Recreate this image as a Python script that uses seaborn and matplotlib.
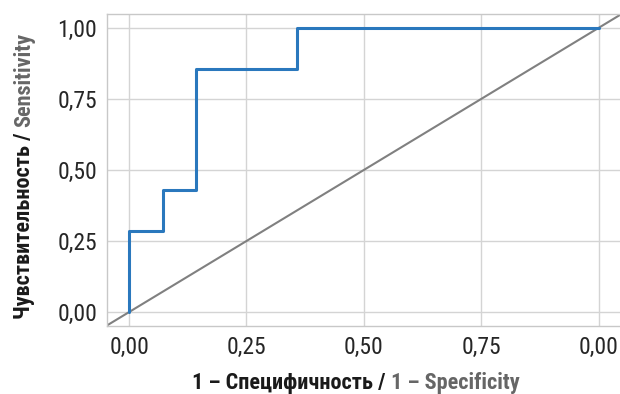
import matplotlib
matplotlib.use("Agg")
import matplotlib.pyplot as plt
import seaborn as sns
import pandas as pd

# ROC curve points (1 - specificity, sensitivity)
fpr = [0.0, 0.0, 0.0714, 0.1429, 0.3571, 1.0]
tpr = [0.0, 0.2857, 0.4286, 0.8571, 1.0, 1.0]
tick_values = [0.0, 0.25, 0.5, 0.75, 1.0]
x_tick_labels = ["0,00", "0,25", "0,50", "0,75", "0,00"]
y_tick_labels = ["0,00", "0,25", "0,50", "0,75", "1,00"]

sns.set_theme(style="whitegrid")
FONT = ["Roboto Condensed", "DejaVu Sans"]
plt.rcParams["font.family"] = FONT
plt.rcParams["font.stretch"] = "condensed"

df = pd.DataFrame({"fpr": fpr, "tpr": tpr})

fig = plt.figure(figsize=(6.2, 3.94), dpi=100)
ax = fig.add_axes([107 / 620, 68 / 394, 515 / 620, 312 / 394])

ax.axline((0, 0), (1, 1), color="#808080", lw=1.5, zorder=2)
sns.lineplot(data=df, x="fpr", y="tpr", ax=ax, sort=False, estimator=None,
             drawstyle="steps-post", color="#2a78bd", lw=2.2, zorder=3)

ax.set_xlim(-0.047, 1.05)
ax.set_ylim(-0.049, 1.049)
ax.set_xticks(tick_values)
ax.set_xticklabels(x_tick_labels)
ax.set_yticks(tick_values)
ax.set_yticklabels(y_tick_labels)
ax.tick_params(axis="both", labelsize=17, colors="#262626", length=4, width=1,
               direction="out", pad=3)
ax.grid(True, color="#d4d4d4", lw=1)
for side in ["left", "top", "bottom"]:
    ax.spines[side].set_color("#c8c8c8")
    ax.spines[side].set_linewidth(1)
ax.spines["right"].set_visible(False)
ax.set_xlabel("")
ax.set_ylabel("")

label_kw = dict(fontsize=16, fontweight="bold", family=FONT, fontstretch="condensed")
dark, grey = "#1a1a1a", "#666666"

fig.canvas.draw()
renderer = fig.canvas.get_renderer()


def two_tone(parts, x, y, rotation):
    # measure every piece, then lay them end to end centred on (x, y)
    widths = []
    for txt, _ in parts:
        t = fig.text(0, 0, txt, **label_kw)
        widths.append(t.get_window_extent(renderer).width)
        t.remove()
    total = sum(widths)
    pos = -total / 2
    for (txt, col), w in zip(parts, widths):
        if rotation == 0:
            fig.text(x + pos, y, txt, color=col, ha="left", va="baseline",
                     transform=None, **label_kw)
        else:
            fig.text(x, y + pos, txt, color=col, ha="left", va="baseline",
                     rotation=90, rotation_mode="anchor", transform=None,
                     **label_kw)
        pos += w


two_tone([("1 – Специфичность / ", dark), ("1 – Specificity", grey)],
         356, 394 - 389, 0)
two_tone([("Чувствительность / ", dark), ("Sensitivity", grey)],
         30, 394 - 176, 90)

fig.savefig("out.png", dpi=100)
